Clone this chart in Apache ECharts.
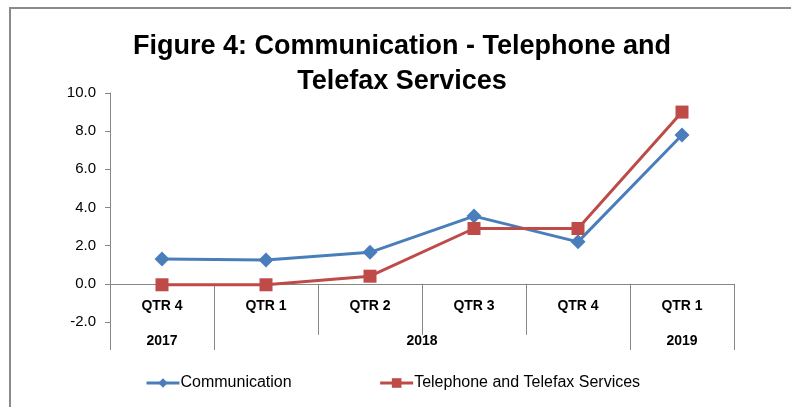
<!DOCTYPE html>
<html>
<head>
<meta charset="utf-8">
<script src="https://cdn.jsdelivr.net/npm/echarts@6/dist/echarts.min.js"></script>
<style>
  html, body { margin: 0; padding: 0; background: #fff; overflow: hidden; }
  #frame { position: absolute; left: 9px; top: 7px; width: 900px; height: 500px;
           border-left: 2px solid #8a8a8a; border-top: 2px solid #8a8a8a; }
  #main { position: absolute; left: 0; top: 0; width: 791px; height: 407px; }
</style>
</head>
<body>
<div id="frame"></div>
<div id="main"></div>
<script>
// quarters along the axis, and the years they belong to
const quarters = ['QTR 4', 'QTR 1', 'QTR 2', 'QTR 3', 'QTR 4', 'QTR 1'];
const years = ['2017', '2018', '2019'];
const yearSpans = [1, 4, 1];

// values
const communication = [1.3, 1.25, 1.65, 3.55, 2.2, 7.8];
const telephone = [-0.05, -0.05, 0.4, 2.9, 2.9, 9.0];

const yTicks = { min: -2, max: 10, step: 2 };

// year group boundaries and centres on a 0..n scale
let yearEdges = [0];
let yearCentres = [];
let acc = 0;
yearSpans.forEach(s => {
    yearCentres.push(acc + s / 2);
    acc += s;
    yearEdges.push(acc);
});

const axisGray = '#868686';
const font = 'Liberation Sans, Arial, sans-serif';

const gridTop = 93, gridBottom = 85, chartH = 407;
// pixel distance from the bottom of the plot (min) up to the zero line
const plotH = chartH - gridTop - gridBottom;
const zeroLift = plotH * (0 - yTicks.min) / (yTicks.max - yTicks.min);

let myChart = echarts.init(document.getElementById('main'));
myChart.setOption({
    animation: false,
    title: {
        text: 'Figure 4: Communication - Telephone and\nTelefax Services',
        left: 397,
        textAlign: 'center',
        top: 24,
        textStyle: {
            fontFamily: font,
            fontWeight: 'bold',
            fontSize: 27,
            lineHeight: 35,
            color: '#000'
        }
    },
    legend: {
        left: 140,
        top: 370,
        itemGap: 87,
        itemWidth: 33,
        itemHeight: 12,
        lineStyle: { width: 3 },
        textStyle: { fontFamily: font, fontSize: 16, color: '#000', padding: [0, 0, 0, -4] },
        data: ['Communication', 'Telephone and Telefax Services']
    },
    grid: {
        left: 110,
        right: 57,
        top: gridTop,
        bottom: gridBottom
    },
    xAxis: [{
        type: 'category',
        data: quarters,
        position: 'bottom',
        offset: -zeroLift,
        axisLine: { onZero: false, lineStyle: { color: axisGray, width: 1 } },
        axisTick: { show: true, interval: 0, alignWithLabel: false, length: 51, lineStyle: { color: axisGray } },
        axisLabel: {
            interval: 0,
            margin: 15,
            fontFamily: font,
            fontWeight: 'bold',
            fontSize: 14,
            color: '#000'
        },
        splitLine: { show: false }
    }, {
        type: 'value',
        min: 0,
        max: quarters.length,
        position: 'bottom',
        axisLine: { show: false, onZero: false },
        axisTick: {
            show: true,
            customValues: yearEdges,
            length: 28,
            lineStyle: { color: axisGray }
        },
        axisLabel: {
            customValues: yearCentres,
            margin: 12,
            fontFamily: font,
            fontWeight: 'bold',
            fontSize: 14,
            color: '#000',
            formatter: v => years[yearCentres.indexOf(v)] || ''
        },
        splitLine: { show: false }
    }],
    yAxis: {
        type: 'value',
        min: yTicks.min,
        max: yTicks.max,
        interval: yTicks.step,
        axisLine: { show: true, lineStyle: { color: axisGray } },
        axisTick: { show: true, length: 5, lineStyle: { color: axisGray } },
        axisLabel: {
            margin: 14,
            fontFamily: font,
            fontSize: 15,
            color: '#000',
            formatter: v => v.toFixed(1)
        },
        splitLine: { show: false }
    },
    series: [{
        name: 'Communication',
        type: 'line',
        data: communication,
        symbol: 'diamond',
        symbolSize: 15,
        lineStyle: { width: 3, color: '#4A7EBB' },
        itemStyle: { color: '#4A7EBB' }
    }, {
        name: 'Telephone and Telefax Services',
        type: 'line',
        data: telephone,
        symbol: 'rect',
        symbolSize: 13,
        lineStyle: { width: 3, color: '#BE4B48' },
        itemStyle: { color: '#BE4B48' }
    }]
});
</script>
</body>
</html>
